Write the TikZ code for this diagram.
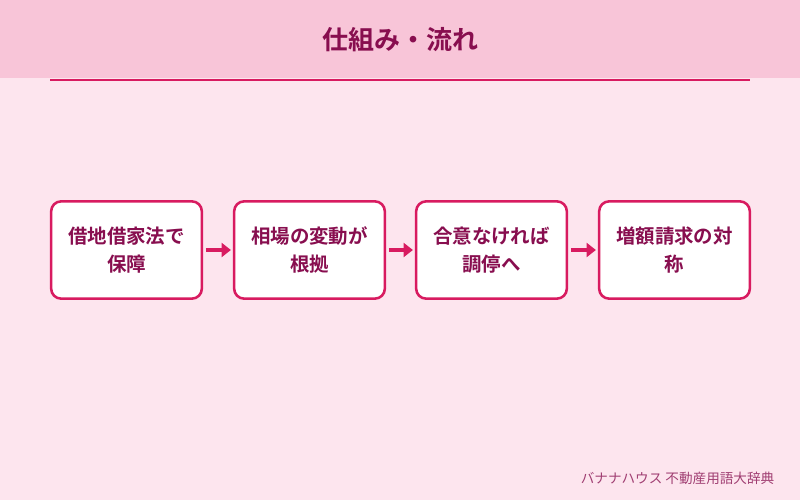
\documentclass[tikz,border=0pt]{standalone}
\usepackage{fontspec}
\newfontfamily\jp{Noto Sans CJK JP}
\newfontfamily\jpb{Noto Sans CJK JP Bold}
\usetikzlibrary{arrows.meta}
\definecolor{bgc}{HTML}{FDE5EE}
\definecolor{hdr}{HTML}{F8C5D8}
\definecolor{acc}{HTML}{D81B60}
\definecolor{txt}{HTML}{880E4F}
\tikzset{
  stepbox/.style={draw=acc, line width=1.9pt, fill=white, rounded corners=7.5pt,
    minimum width=113pt, minimum height=73pt, align=center, text=txt,
    font=\jpb\fontsize{14.6pt}{21pt}\selectfont, inner sep=0pt},
  flow/.style={draw=acc, line width=3pt, -{Triangle[length=7pt,width=10.5pt]},
    shorten <=2pt, shorten >=1.5pt},
}
\begin{document}
\begin{tikzpicture}[x=0.75pt,y=-0.75pt]
\useasboundingbox (0,0) rectangle (800,500);
\fill[bgc] (0,0) rectangle (800,500);
\fill[hdr] (0,0) rectangle (800,78);
\draw[acc, line width=1.5pt] (50,80) -- (750,80);
\node[text=txt, font=\jpb\fontsize{19.5pt}{22pt}\selectfont] (title) at (400,40) {仕組み・流れ};
\node[stepbox] (s1) at (126.5,250) {借地借家法で\\保障};
\node[stepbox] (s2) at (309.5,250) {相場の変動が\\根拠};
\node[stepbox] (s3) at (491.5,250) {合意なければ\\調停へ};
\node[stepbox] (s4) at (674.5,250) {増額請求の対\\称};
\draw[flow] (s1) -- (s2);
\draw[flow] (s2) -- (s3);
\draw[flow] (s3) -- (s4);
\node[anchor=east, text=txt!80, font=\jp\fontsize{10.2pt}{12pt}\selectfont] (foot) at (779,478) {バナナハウス 不動産用語大辞典};
\end{tikzpicture}
\end{document}
